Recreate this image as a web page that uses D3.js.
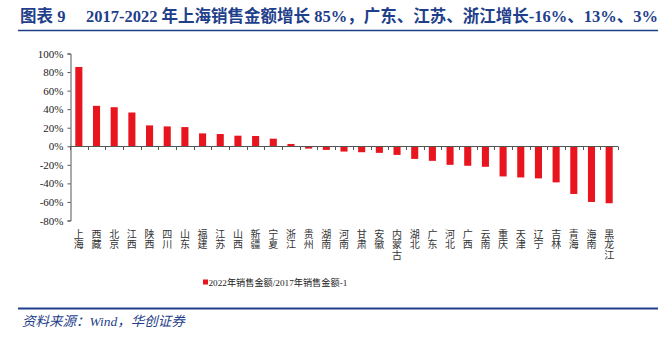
<!DOCTYPE html>
<html><head><meta charset="utf-8">
<script src="https://cdn.jsdelivr.net/npm/d3@7/dist/d3.min.js"></script>
<style>
body{margin:0;background:#fff;}
svg{display:block;}
</style></head>
<body>
<svg id="c" width="658" height="345"></svg>
<script>
const categories = ["上海","西藏","北京","江西","陕西","四川","山东","福建","江苏","山西","新疆","宁夏","浙江","贵州","湖南","河南","甘肃","安徽","内蒙古","湖北","广东","河北","广西","云南","重庆","天津","辽宁","吉林","青海","海南","黑龙江"];
const values = [85.5,43.6,42.1,36.4,22.5,21.4,20.7,13.9,13.2,11.4,11.1,8.2,2.5,-2.5,-3.9,-5.7,-6.4,-7.1,-9.3,-13.6,-15.7,-20.0,-21.0,-22.1,-32.5,-33.6,-34.6,-38.9,-51.4,-60.0,-61.4];
const yTicks = [100,80,60,40,20,0,-20,-40,-60,-80];
const seriesName = "2022年销售金额/2017年销售金额-1";
const titleText = "图表 9\u00a0\u00a0\u00a0\u00a0\u00a02017-2022 年上海销售金额增长 85%，广东、江苏、浙江增长-16%、13%、3%";
const sourceText = "资料来源：Wind，华创证券";

const svg = d3.select("#c");
const blue = "#1f3f8a";
const red = "#e8141e";
const serif = "'Liberation Serif','Noto Sans CJK SC',serif";

// title
svg.append("text").attr("x",20).attr("y",22)
  .attr("font-family",serif).attr("font-weight","bold").attr("font-size",16.5)
  .attr("fill",blue).text(titleText);
svg.append("line").attr("x1",18).attr("x2",658).attr("y1",30.5).attr("y2",30.5)
  .attr("stroke",blue).attr("stroke-width",1.5);

const x = d3.scaleBand().domain(categories).range([70,618]).paddingInner(0.6).paddingOuter(0.3);
const y = d3.scaleLinear().domain([-80,100]).range([220.5,53.5]);

// bars
svg.append("g").selectAll("rect").data(values).join("rect")
  .attr("x",(d,i)=>x(categories[i]))
  .attr("width",x.bandwidth())
  .attr("y",d=>y(Math.max(0,d)))
  .attr("height",d=>Math.abs(y(d)-y(0)))
  .attr("fill",red);

// y axis
const yAxis = d3.axisLeft(y).tickValues(yTicks).tickSize(3).tickPadding(4).tickFormat(d=>d+"%");
const ya = svg.append("g").attr("transform","translate(70.5,0)").call(yAxis);
ya.select(".domain").attr("stroke","#555");
ya.selectAll(".tick line").attr("stroke","#555");
ya.selectAll("text").attr("font-family",serif).attr("font-size",11).attr("fill","#222");

// x axis line at zero with boundary ticks
const n = categories.length;
const bounds = d3.range(n+1).map(i=>70+ i*(548/n));
const y0 = Math.round(y(0))+0.5;
const xa = svg.append("g");
xa.append("line").attr("x1",70).attr("x2",618).attr("y1",y0).attr("y2",y0).attr("stroke","#555");
xa.selectAll("line.t").data(bounds).join("line").attr("class","t")
  .attr("x1",d=>Math.round(d)+0.5).attr("x2",d=>Math.round(d)+0.5)
  .attr("y1",y0).attr("y2",y0+3.5)
  .attr("stroke","#555");

// category labels, vertical text
svg.append("g").attr("font-family","'Noto Sans CJK SC',sans-serif").attr("font-size",10).attr("fill","#333")
  .selectAll("text").data(categories).join("text")
  .attr("x",d=>x(d)+x.bandwidth()/2)
  .attr("y",229)
  .style("writing-mode","vertical-rl")
  .style("text-orientation","upright")
  .style("letter-spacing","0.5px")
  .text(d=>d);

// legend
svg.append("rect").attr("x",203).attr("y",279.5).attr("width",5).attr("height",5).attr("fill",red);
svg.append("text").attr("x",208.5).attr("y",286).attr("font-family",serif).attr("font-size",9.2).attr("fill","#222").text(seriesName);

// bottom line and source
svg.append("line").attr("x1",18).attr("x2",658).attr("y1",308.5).attr("y2",308.5).attr("stroke",blue).attr("stroke-width",2);
svg.append("text").attr("x",22).attr("y",326).attr("font-family",serif).attr("font-style","italic").attr("font-size",13.5).attr("fill",blue).text(sourceText);
</script>
</body></html>
